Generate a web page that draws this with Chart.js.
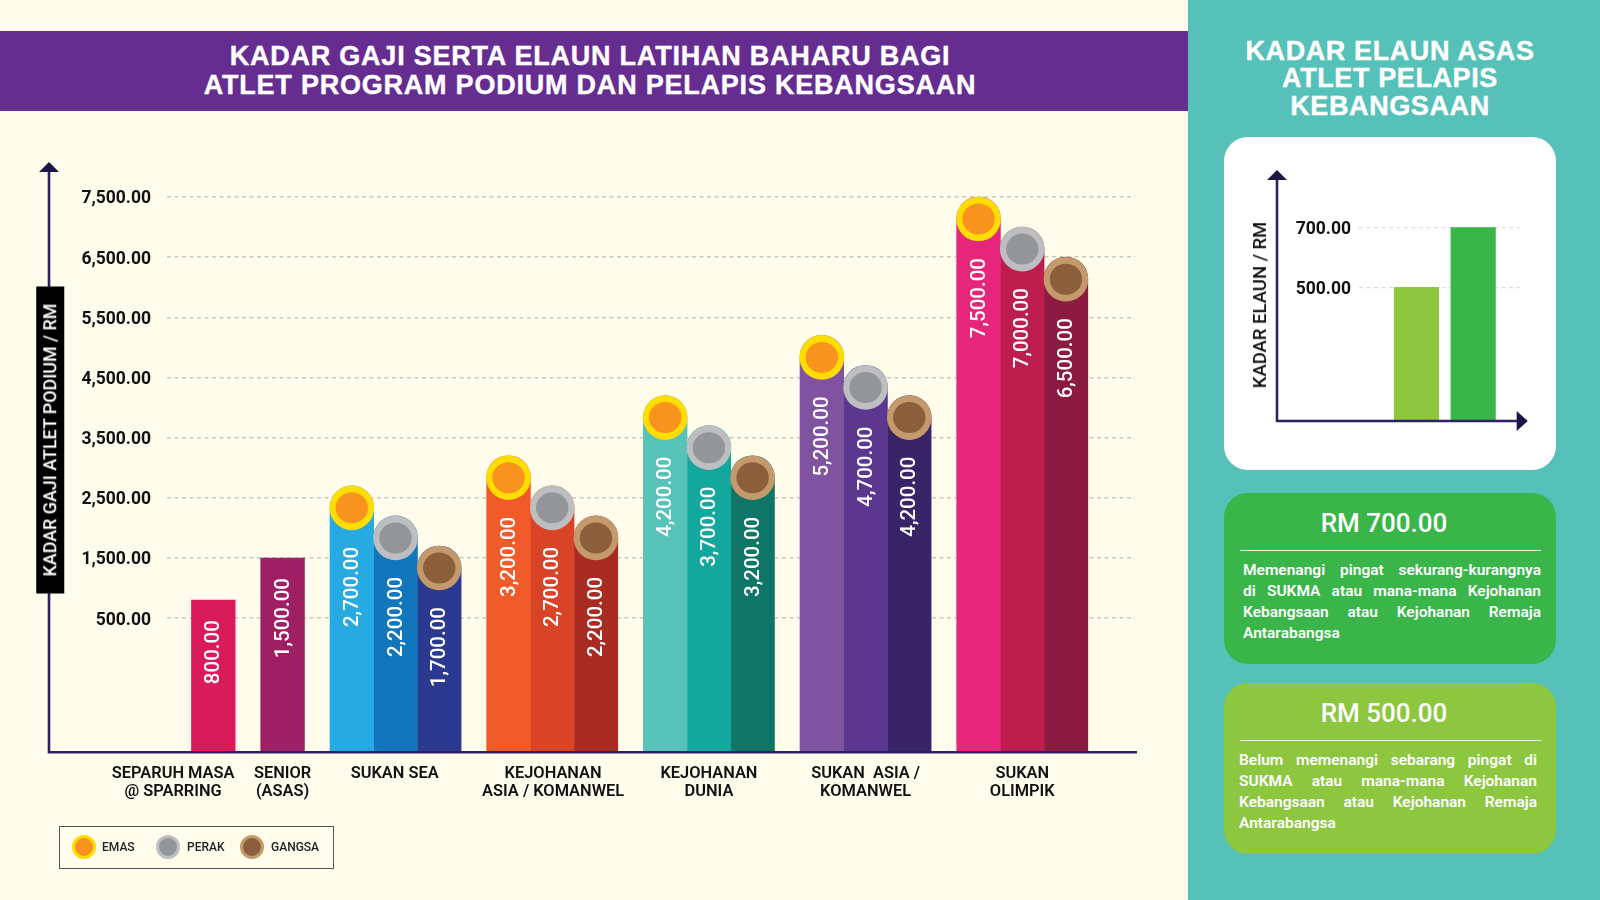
<!DOCTYPE html>
<html>
<head>
<meta charset="utf-8">
<script src="https://cdn.jsdelivr.net/npm/chart.js@4"></script>
<style>
html, body { margin: 0; padding: 0; }
body { width: 1600px; height: 900px; position: relative; overflow: hidden; background: #FFFCEB; font-family: Roboto, sans-serif; }
canvas { position: absolute; }
.abs { position: absolute; }
#header { left: 0; top: 31px; width: 1188px; height: 80px; background: #662D91; color: #fff; text-align: center; font: bold 27px/29px "Liberation Sans", sans-serif; letter-spacing: 0.78px; -webkit-text-stroke: 0.4px #fff; padding: 10.5px 8px 0 0; box-sizing: border-box; }
#panel { left: 1188px; top: 0; width: 412px; height: 900px; background: #55C1B8; }
#panelTitle { left: 1188px; top: 37.5px; width: 404px; text-align: center; color: #fff; font: bold 27px/27.7px "Liberation Sans", sans-serif; letter-spacing: 0.6px; -webkit-text-stroke: 0.4px #fff; }
#inset { left: 1224px; top: 137px; width: 332px; height: 333px; background: #fff; border-radius: 24px; }
.rot { transform: translate(-50%, -50%) rotate(-90deg); white-space: nowrap; }
#mainTitle { left: 49.5px; top: 439.5px; width: 307px; height: 27.5px; background: #000; color: #fff; text-align: center; font: 500 17.9px/27.5px Roboto, sans-serif; }
#insetTitle { left: 1260px; top: 305px; color: #111; font: 500 18.5px/20px Roboto, sans-serif; }
.card { left: 1224px; width: 332px; border-radius: 24px; color: #fff; height: 171px; }
.card h3 { position: absolute; margin: 0; left: 0; top: 13px; width: 320px; text-align: center; font: 500 26px/34px Roboto, sans-serif; }
.card hr { position: absolute; margin: 0; border: 0; left: 16px; top: 57px; width: 301px; height: 1px; background: #fff; }
.card .txt { position: absolute; top: 67px; width: 298px; font: 600 15.5px/21px Roboto, sans-serif; }
.card .txt span { display: block; text-align: justify; text-align-last: justify; }
.card .txt span:last-child { text-align-last: left; }
#legend { left: 59px; top: 826px; width: 275px; height: 43px; border: 1px solid #555; box-sizing: border-box; font: 500 12px/43px Roboto, sans-serif; color: #222; }
#legend i { position: absolute; top: 8px; width: 18px; height: 18px; border-radius: 50%; border: 3.5px solid; box-sizing: content-box; }
#legend b { position: absolute; top: -1px; font-weight: 500; }
</style>
</head>
<body>
<div class="abs" id="panel"></div>
<div class="abs" id="header">KADAR GAJI SERTA ELAUN LATIHAN BAHARU BAGI<br>ATLET PROGRAM PODIUM DAN PELAPIS KEBANGSAAN</div>
<div class="abs" id="panelTitle">KADAR ELAUN ASAS<br>ATLET PELAPIS<br>KEBANGSAAN</div>
<div class="abs" id="inset"></div>
<canvas id="mainChart" width="1188" height="900" style="left:0;top:0"></canvas>
<canvas id="insetChart" width="332" height="333" style="left:1224px;top:137px"></canvas>
<div class="abs rot" id="mainTitle">KADAR GAJI ATLET PODIUM / RM</div>
<div class="abs rot" id="insetTitle">KADAR ELAUN / RM</div>
<div class="abs card" style="top:493px;background:#39B54A">
  <h3>RM 700.00</h3><hr>
  <div class="txt" style="left:19px"><span>Memenangi pingat sekurang-kurangnya</span><span>di SUKMA atau mana-mana Kejohanan</span><span>Kebangsaan atau Kejohanan Remaja</span><span>Antarabangsa</span></div>
</div>
<div class="abs card" style="top:683px;background:#8DC63F">
  <h3>RM 500.00</h3><hr>
  <div class="txt" style="left:15px"><span>Belum memenangi sebarang pingat di</span><span>SUKMA atau mana-mana Kejohanan</span><span>Kebangsaan atau Kejohanan Remaja</span><span>Antarabangsa</span></div>
</div>
<div class="abs" id="legend">
  <i style="left:12px;background:#F7931E;border-color:#FFDD00"></i><b style="left:42px">EMAS</b>
  <i style="left:96px;background:#939598;border-color:#BCBEC0"></i><b style="left:127px">PERAK</b>
  <i style="left:180px;background:#8B5E3C;border-color:#C49A6C"></i><b style="left:211px">GANGSA</b>
</div>
<script>
const categories = [
    ["SEPARUH MASA", "@ SPARRING"],
    ["SENIOR", "(ASAS)"],
    ["SUKAN SEA"],
    ["KEJOHANAN", "ASIA / KOMANWEL"],
    ["KEJOHANAN", "DUNIA"],
    ["SUKAN  ASIA /", "KOMANWEL"],
    ["SUKAN", "OLIMPIK"]
];
const tanpaPingat = [800, 1500, null, null, null, null, null];
const emas = [null, null, 2700, 3200, 4200, 5200, 7500];
const perak = [null, null, 2200, 2700, 3700, 4700, 7000];
const gangsa = [null, null, 1700, 2200, 3200, 4200, 6500];
const yTicks = [500, 1500, 2500, 3500, 4500, 5500, 6500, 7500];

const elaunTahap = ["Belum memenangi pingat", "Memenangi pingat"];
const elaun = [500, 700];
const elaunTicks = [500, 700];

// layout of the picture, in bar widths along the x axis
const firstBar = 1.06;
const groupGap = 0.585;
const labelShift = [-0.92, 0, -0.02, 0.02, 0, 0, 0];
const axisFloor = -1728;
const insetFloor = 54;

// where each bar sits: bars of one group touch, groups have a gap
const barX = { tanpa: [], emas: [], perak: [], gangsa: [] };
const labelX = [];
let cursor = firstBar;
categories.forEach(function (c, i) {
    if (tanpaPingat[i] !== null) {
        barX.tanpa[i] = cursor;
        labelX.push(cursor + labelShift[i]);
        cursor += 1 + groupGap;
    } else {
        barX.emas[i] = cursor;
        barX.perak[i] = cursor + 1;
        barX.gangsa[i] = cursor + 2;
        labelX.push(cursor + 1 + labelShift[i]);
        cursor += 3 + groupGap;
    }
});

function points(values, xs) {
    const out = [];
    values.forEach(function (v, i) {
        if (v !== null) out.push({ x: xs[i], y: v });
    });
    return out;
}

function money(v) {
    return Number(v).toLocaleString("en-US", { minimumFractionDigits: 2, maximumFractionDigits: 2 });
}

const medalColors = {
    emas: ["#FFDD00", "#F7931E"],
    perak: ["#BCBEC0", "#939598"],
    gangsa: ["#C49A6C", "#8B5E3C"]
};

// the two axis lines with their arrow heads
const axisLines = {
    id: "axisLines",
    afterDatasetsDraw: function (chart, args, opts) {
        const ctx = chart.ctx;
        const bottom = chart.chartArea.bottom;
        ctx.save();
        ctx.strokeStyle = "#2B2361";
        ctx.fillStyle = "#1B1548";
        ctx.lineWidth = 2.6;
        ctx.beginPath();
        ctx.moveTo(opts.x, opts.top + 5);
        ctx.lineTo(opts.x, bottom);
        ctx.lineTo(opts.right, bottom);
        ctx.stroke();
        ctx.beginPath();
        ctx.moveTo(opts.x, opts.top - 3);
        ctx.lineTo(opts.x + 10, opts.top + 7);
        ctx.lineTo(opts.x - 10, opts.top + 7);
        ctx.fill();
        if (opts.arrowRight) {
            ctx.beginPath();
            ctx.moveTo(opts.right + 1, bottom);
            ctx.lineTo(opts.right - 10, bottom + 10);
            ctx.lineTo(opts.right - 10, bottom - 10);
            ctx.fill();
        }
        ctx.restore();
    }
};

// rotated value inside each bar and the medal on top of it
const barDecor = {
    id: "barDecor",
    afterDatasetsDraw: function (chart) {
        const ctx = chart.ctx;
        chart.data.datasets.forEach(function (ds, i) {
            const meta = chart.getDatasetMeta(i);
            meta.data.forEach(function (bar, j) {
                if (ds.medal) {
                    const colors = medalColors[ds.medal];
                    ctx.beginPath();
                    ctx.arc(bar.x, bar.y + 22, 22.3, 0, Math.PI * 2);
                    ctx.fillStyle = colors[0];
                    ctx.fill();
                    ctx.beginPath();
                    ctx.ellipse(bar.x, bar.y + 22, 16.2, 15.5, 0, 0, Math.PI * 2);
                    ctx.fillStyle = colors[1];
                    ctx.fill();
                }
                ctx.save();
                ctx.translate(bar.x, bar.y + (ds.medal ? 61 : 20));
                ctx.rotate(-Math.PI / 2);
                ctx.font = "500 20.5px Roboto, sans-serif";
                ctx.fillStyle = "#FFFFFF";
                ctx.textAlign = "right";
                ctx.textBaseline = "middle";
                ctx.fillText(money(ds.data[j].y), 0, 1);
                ctx.restore();
            });
        });
    }
};

function barSet(label, values, xs, colors, medal) {
    return {
        label: label,
        data: points(values, xs),
        backgroundColor: colors,
        base: axisFloor,
        medal: medal,
        borderRadius: medal ? 22 : 0,
        grouped: false,
        barPercentage: 1,
        categoryPercentage: 1
    };
}

new Chart(document.getElementById("mainChart"), {
    type: "bar",
    data: {
        datasets: [
            barSet("Tanpa pingat", tanpaPingat, barX.tanpa, ["#D91B5C", "#9E1F63"]),
            barSet("EMAS", emas, barX.emas, ["#27AAE1", "#F15A29", "#56C2B8", "#8053A1", "#E6267A"], "emas"),
            barSet("PERAK", perak, barX.perak, ["#1176BC", "#DA4426", "#13A89E", "#5B378F", "#BE1E4D"], "perak"),
            barSet("GANGSA", gangsa, barX.gangsa, ["#2B3990", "#A92C23", "#0F7567", "#3A2468", "#8C1B41"], "gangsa")
        ]
    },
    options: {
        responsive: false,
        animation: false,
        layout: { autoPadding: false, padding: { top: 197, right: 53, left: 0, bottom: 0 } },
        scales: {
            x: {
                type: "linear",
                offset: false,
                min: 0,
                max: 22.15,
                afterBuildTicks: function (scale) {
                    scale.ticks = labelX.map(function (v) { return { value: v }; });
                },
                afterFit: function (scale) { scale.height = 147.7; },
                grid: { display: false },
                border: { display: false },
                ticks: {
                    autoSkip: false,
                    maxRotation: 0,
                    padding: 5,
                    color: "#111111",
                    font: { family: "Roboto", size: 16.4, weight: "600", lineHeight: 1.08 },
                    callback: function (v, i) { return categories[i]; }
                }
            },
            y: {
                min: axisFloor,
                max: 7500,
                afterBuildTicks: function (scale) {
                    scale.ticks = yTicks.map(function (v) { return { value: v }; });
                },
                afterFit: function (scale) { scale.width = 167; },
                grid: { color: "#C9C9BC", lineWidth: 1.5, drawTicks: false },
                border: { display: false, dash: [4, 3.5] },
                ticks: {
                    padding: 16,
                    labelOffset: 2,
                    color: "#111111",
                    font: { family: "Roboto", size: 17.5, weight: "700" },
                    callback: function (v) { return money(v); }
                }
            }
        },
        plugins: {
            legend: { display: false },
            tooltip: { enabled: false },
            axisLines: { x: 49, top: 165, right: 1137 }
        }
    },
    plugins: [axisLines, barDecor]
});

new Chart(document.getElementById("insetChart"), {
    type: "bar",
    data: {
        labels: elaunTahap,
        datasets: [{
            label: "Kadar elaun",
            data: elaun.map(function (v, i) { return { x: i + 1.014, y: v }; }),
            backgroundColor: ["#8DC63F", "#39B54A"],
            barThickness: 44.5
        }]
    },
    options: {
        responsive: false,
        animation: false,
        layout: { autoPadding: false, padding: { top: 90.3, right: 34.3, left: 0, bottom: 49 } },
        scales: {
            x: { type: "linear", offset: false, min: 0, max: 2.87, display: false },
            y: {
                min: insetFloor,
                max: 700,
                afterBuildTicks: function (scale) {
                    scale.ticks = elaunTicks.map(function (v) { return { value: v }; });
                },
                afterFit: function (scale) { scale.width = 135; },
                grid: { color: "#DDDDDD", lineWidth: 1.2, drawTicks: false },
                border: { display: false, dash: [4, 3.5] },
                ticks: {
                    padding: 8,
                    labelOffset: 2,
                    color: "#111111",
                    font: { family: "Roboto", size: 17.5, weight: "700" },
                    callback: function (v) { return money(v); }
                }
            }
        },
        plugins: {
            legend: { display: false },
            tooltip: { enabled: false },
            axisLines: { x: 53, top: 36, right: 302.7, arrowRight: true }
        }
    },
    plugins: [axisLines]
});
</script>
</body>
</html>
